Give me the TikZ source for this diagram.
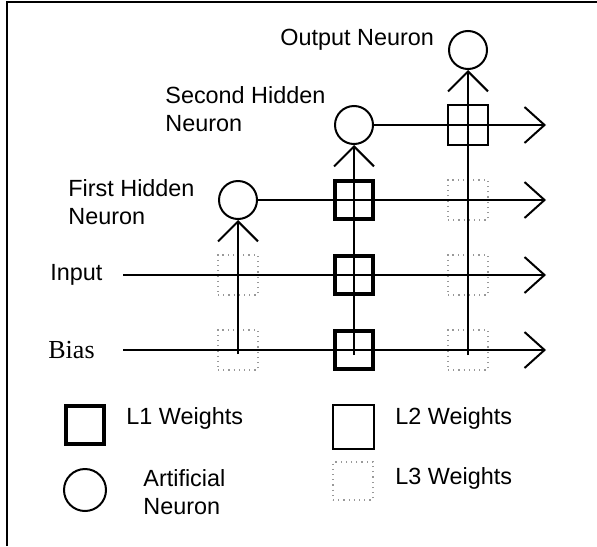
\documentclass[tikz,border=0pt]{standalone}
\usepackage{fontspec}
\setmainfont{Liberation Sans}
\newfontfamily\timesfont{Liberation Serif}
\usetikzlibrary{arrows.meta}
\begin{document}
\begin{tikzpicture}[x=0.5pt,y=-0.5pt,
  neuron/.style={circle,draw,line width=1pt,minimum size=19pt,inner sep=0pt},
  wone/.style={rectangle,draw,line width=2.4pt,minimum size=19pt,inner sep=0pt},
  wtwo/.style={rectangle,draw,line width=1pt,minimum size=20pt,inner sep=0pt},
  wthree/.style={rectangle,draw=gray!80,dotted,line width=0.6pt,minimum size=20pt,inner sep=0pt},
  lbl/.style={anchor=west,inner sep=0pt,font=\fontsize{11.7}{14}\selectfont,align=left},
  wire/.style={line width=0.9pt},
  upwire/.style={wire,-{Straight Barb[length=10pt,width=20pt,line width=1pt]}},
  outwire/.style={wire,-{Straight Barb[length=10pt,width=18pt,line width=1pt]}}]
\useasboundingbox (0,0) rectangle (597,546);
\draw[line width=1.3pt] (7,546) -- (7,2) -- (597,2);

% neurons
\node[neuron] (n1) at (238,200) {};
\node[neuron] (n2) at (354,125) {};
\node[neuron] (n3) at (468,50) {};

% coordinates
\coordinate (inS) at (123,275);
\coordinate (biS) at (123,350);
\coordinate (e1) at (546,125);
\coordinate (e2) at (546,200);
\coordinate (e3) at (546,275);
\coordinate (e4) at (546,350);
\coordinate (c1) at (238,354);
\coordinate (c2) at (354,355);
\coordinate (c3) at (468,355);

% weights
\node[wone] (a1) at (354,200) {};
\node[wone] (a2) at (354,275) {};
\node[wone] (a3) at (354,350) {};
\node[wtwo] (b1) at (468,125) {};
\node[wthree] (d1) at (468,200) {};
\node[wthree] (d2) at (468,275) {};
\node[wthree] (d3) at (468,350) {};
\node[wthree] (d4) at (238,275) {};
\node[wthree] (d5) at (238,350) {};

% wires
\draw[outwire] (n2.east) -- (e1);
\draw[outwire] (n1.east) -- (e2);
\draw[outwire] (inS) -- (e3);
\draw[outwire] (biS) -- (e4);
\draw[upwire] (c1) -- (n1.south);
\draw[upwire] (c2) -- (n2.south);
\draw[upwire] (c3) -- (n3.south);

% labels
\node[lbl] (tout) at (280,40) {Output Neuron};
\node[lbl] (tsec) at (165,109) {Second Hidden\\Neuron};
\node[lbl] (tfir) at (68,202) {First Hidden\\Neuron};
\node[lbl] (tin) at (50,275) {Input};
\node[lbl,font=\timesfont\fontsize{13}{15}\selectfont] (tbias) at (48,350) {Bias};

% legend
\node[wone] (k1) at (85,425) {};
\node[lbl] (k1t) at (126,418) {L1 Weights};
\node[neuron,minimum size=21pt] (k2) at (85,490) {};
\node[lbl] (k2t) at (143,492) {Artificial\\Neuron};
\node[wtwo,minimum width=20.5pt,minimum height=22pt] (k3) at (353,427) {};
\node[lbl] (k3t) at (395,418) {L2 Weights};
\node[wthree,minimum width=20pt,minimum height=19pt] (k4) at (353,481) {};
\node[lbl] (k4t) at (395,478) {L3 Weights};
\end{tikzpicture}
\end{document}
